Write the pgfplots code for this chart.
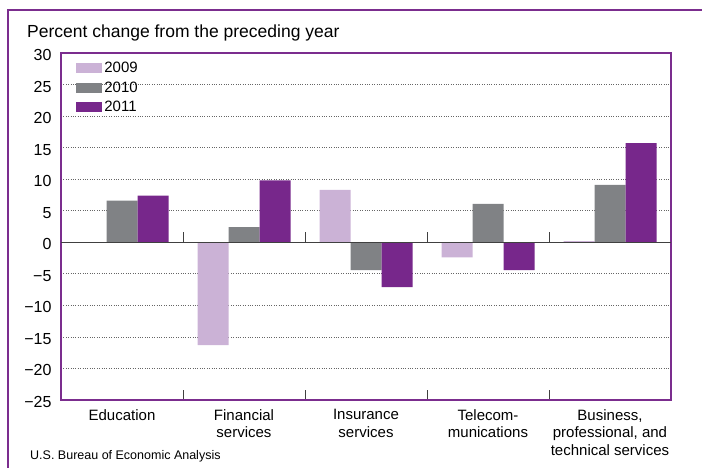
\documentclass[border=0pt]{standalone}
\usepackage{pgfplots}
\pgfplotsset{compat=1.18}
\usepackage{fontspec}
\setmainfont{Liberation Sans}
\definecolor{frame}{RGB}{123,45,142}
\definecolor{cA}{RGB}{203,178,214}
\definecolor{cB}{RGB}{128,130,133}
\definecolor{cC}{RGB}{119,39,139}
\begin{document}
\begin{tikzpicture}
\useasboundingbox (0,0) rectangle (702bp,468bp);
\draw[frame, line width=2.5bp] (8bp,-5bp) -- (8bp,458bp) -- (710bp,458bp);
\node[anchor=base west, inner sep=0pt, font=\fontsize{17.5bp}{20bp}\selectfont] at (27bp,430bp) {Percent change from the preceding year};
\node[anchor=base west, inner sep=0pt, font=\fontsize{12.5bp}{15bp}\selectfont] at (30bp,9bp) {U.S. Bureau of Economic Analysis};
\begin{axis}[
  at={(61bp,68bp)}, anchor=south west,
  scale only axis, width=610bp, height=347bp,
  ybar=0pt, bar width=31bp,
  xmin=-0.5, xmax=4.5, ymin=-25, ymax=30,
  xtick={0,1,2,3,4},
  xticklabels={Education,{Financial\\services},{Insurance\\services},{Telecom-\\munications},{Business,\\professional, and\\technical services}},
  xticklabel style={align=center, font=\fontsize{15bp}{17.5bp}\selectfont, yshift=-6bp},
  major x tick style={draw=none},
  minor xtick={0.5,1.5,2.5,3.5},
  minor x tick style={black!75, line width=1bp},
  minor tick length=10bp,
  tick align=inside, xtick pos=bottom,
  ytick={-25,-20,...,30},
  yticklabels={−25,−20,−15,−10,−5,0,5,10,15,20,25,30},
  yticklabel style={font=\fontsize{16bp}{18bp}\selectfont, yshift=-2bp, xshift=-6bp},
  ytick style={draw=none},
  ymajorgrids, major grid style={dotted, black!60, line width=0.8bp},
  axis line style={frame, line width=2bp},
  legend style={at={(0.02,0.985)}, anchor=north west, draw=none, fill=none,
    font=\fontsize{15bp}{17bp}\selectfont, row sep=3.5bp,
    /tikz/every even column/.append style={column sep=2bp}},
  legend cell align=left,
  legend image code/.code={\fill[#1] (0bp,-5bp) rectangle (26bp,5bp);},
]
\addplot[fill=cA, draw=none] coordinates {(0,0) (1,-16.3) (2,8.3) (3,-2.4) (4,0.2)};
\addplot[fill=cB, draw=none] coordinates {(0,6.6) (1,2.4) (2,-4.4) (3,6.1) (4,9.1)};
\addplot[fill=cC, draw=none] coordinates {(0,7.4) (1,9.8) (2,-7.1) (3,-4.4) (4,15.7)};
\legend{2009,2010,2011}
\draw[black!75, line width=1.5bp] (axis cs:-0.5,0) -- (axis cs:4.5,0);
\pgfplotsinvokeforeach{0.5,1.5,2.5,3.5}{\draw[black!75, line width=1bp] (axis cs:#1,0) -- ([yshift=10bp]axis cs:#1,0);}
\end{axis}
\end{tikzpicture}
\end{document}
